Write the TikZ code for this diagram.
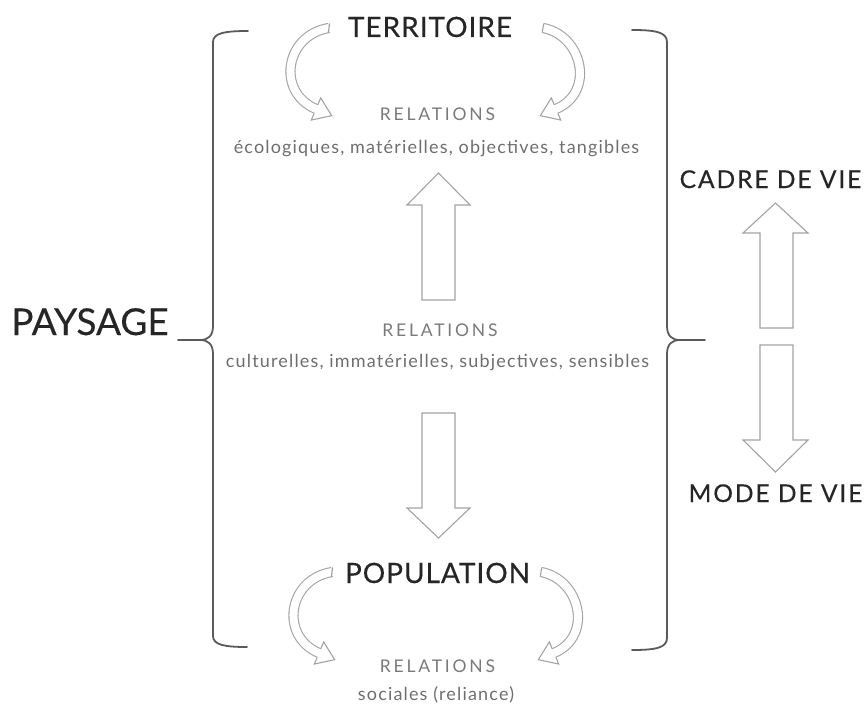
\documentclass[tikz,border=0pt]{standalone}
\usepackage{fontspec}
\setmainfont{Lato}
\definecolor{titlecol}{HTML}{262626}
\definecolor{relcol}{HTML}{7A7A7A}
\definecolor{desccol}{HTML}{6E6E6E}
\definecolor{bracecol}{HTML}{5A5A5A}
\definecolor{arrowcol}{HTML}{A3A3A3}
% hollow curved arrow: start, control 1, control 2, end, start-cap angle, head angle
\newcommand\hollowcurve[6]{%
  \draw[shaftline] (#1) .. controls (#2) and (#3) .. (#4);
  \begin{scope}[shift={(#1)}, rotate=#5]
    \draw[outline] (0,-4.6) -- (0,4.6);
  \end{scope}
  \begin{scope}[shift={(#4)}, rotate=#6]
    \filldraw[outline, fill=white] (0,-4.6) -- (0,-12) -- (17,0) -- (0,12) -- (0,4.6);
  \end{scope}
}
\begin{document}
\begin{tikzpicture}[x=1pt, y=-1pt,
  title/.style={inner sep=0, anchor=base, text=titlecol,
    font=\fontsize{28}{30}\selectfont\addfontfeatures{FakeBold=0.4,LetterSpace=3.5}},
  side/.style={inner sep=0, anchor=base, text=titlecol,
    font=\fontsize{24.5}{26}\selectfont\addfontfeatures{FakeBold=0.4,LetterSpace=8}},
  rel/.style={inner sep=0, anchor=base, text=relcol,
    font=\fontsize{17.5}{19}\selectfont\addfontfeatures{LetterSpace=16}},
  desc/.style={inner sep=0, anchor=base, text=desccol,
    font=\fontsize{18}{20}\selectfont\addfontfeatures{LetterSpace=6.5}},
  brace/.style={draw=bracecol, line width=1.8pt, line cap=round},
  outline/.style={draw=arrowcol, line width=1.1pt, line join=miter},
  shaftline/.style={draw=arrowcol, line width=1.1pt, double=white, double distance=8pt},
  block/.style={draw=arrowcol, line width=1.1pt, fill=white}]
\useasboundingbox (0,0) rectangle (866,706);

% texts
\node[title] (terr) at (430,37) {TERRITOIRE};
\node[rel] (relA) at (437.5,121) {RELATIONS};
\node[desc] (descA) at (436.5,153) {écologiques, matérielles, objectives, tangibles};
\node[rel] (relB) at (440,336) {RELATIONS};
\node[desc] (descB) at (437.5,367) {culturelles, immatérielles, subjectives, sensibles};
\node[title] (pop) at (437.5,583) {POPULATION};
\node[rel] (relC) at (437.5,672) {RELATIONS};
\node[desc] (descC) at (436,700) {sociales (reliance)};
\node[inner sep=0, anchor=base, text=titlecol,
  font=\fontsize{37}{40}\selectfont\addfontfeatures{FakeBold=0.3}] (pays) at (90,335) {PAYSAGE};
\node[side] (cadre) at (770.5,188) {CADRE DE VIE};
\node[side] (mode) at (775.5,502) {MODE DE VIE};

% left brace
\draw[brace] (248,31) .. controls (225,31) and (213,33) .. (213,42) -- (213,326)
  .. controls (213,336) and (208,340) .. (200,340) -- (178,340);
\draw[brace] (200,340) .. controls (208,340) and (213,344) .. (213,354) -- (213,636)
  .. controls (213,645) and (225,647) .. (247,647);
% right brace
\draw[brace] (632,30) .. controls (655,30) and (667,32) .. (667,42) -- (667,326)
  .. controls (667,336) and (672,340) .. (680,340) -- (705,340);
\draw[brace] (680,340) .. controls (672,340) and (667,344) .. (667,354) -- (667,638)
  .. controls (667,648) and (655,650) .. (632,650);

% curved arrows around TERRITOIRE and POPULATION
\hollowcurve{329,28}{285,35}{276,92}{316,109}{171}{-23}
\hollowcurve{543,28}{582,35}{596,92}{556,109}{-10.2}{-157}
\hollowcurve{332,572}{288,579}{279,636}{319,653}{171}{-23}
\hollowcurve{541,572}{580,579}{594,636}{554,653}{-10.2}{-157}

% block arrows in the middle column
\draw[block] (422,300) -- (422,205) -- (407,205) -- (438.5,173) -- (470,205) -- (455,205) -- (455,300) -- cycle;
\draw[block] (422,413) -- (422,508) -- (407,508) -- (438.5,538) -- (470,508) -- (455,508) -- (455,413) -- cycle;
% block arrows on the right
\draw[block] (760,328) -- (760,233) -- (743,233) -- (775.5,203) -- (808,233) -- (793,233) -- (793,328) -- cycle;
\draw[block] (760,345) -- (760,440) -- (743,440) -- (775.5,472) -- (808,440) -- (793,440) -- (793,345) -- cycle;
\end{tikzpicture}
\end{document}
